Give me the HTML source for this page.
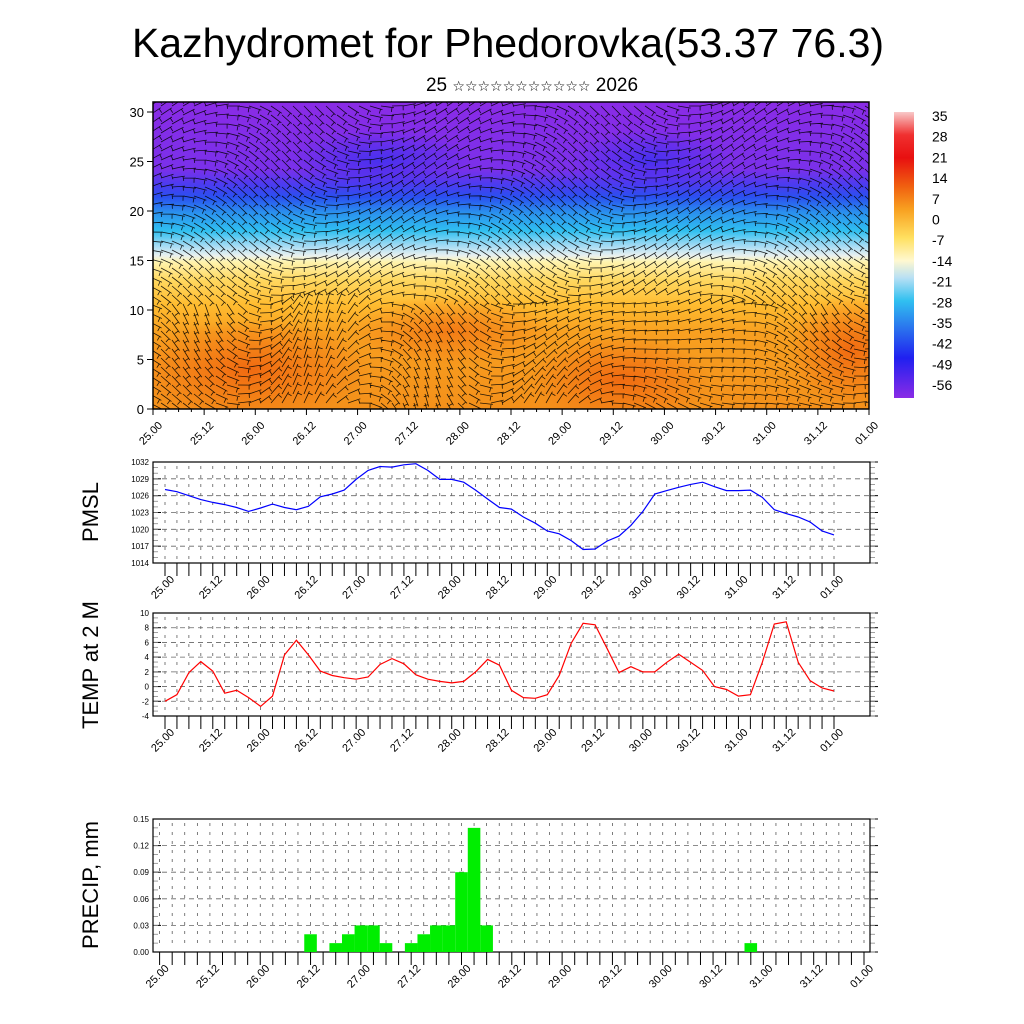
<!DOCTYPE html>
<html><head><meta charset="utf-8"><style>
html,body{margin:0;padding:0;background:#fff;}
svg{display:block;font-family:"Liberation Sans",sans-serif;}
</style></head><body>
<svg id="fig" width="1024" height="1024" viewBox="0 0 1024 1024">
<defs>
<linearGradient id="tgrad" x1="0" y1="0" x2="0" y2="1">
<stop offset="0" stop-color="#8a2be6"/>
<stop offset="0.22" stop-color="#7a30ea"/>
<stop offset="0.27" stop-color="#4a3cf0"/>
<stop offset="0.31" stop-color="#2a50f0"/>
<stop offset="0.36" stop-color="#2a90ee"/>
<stop offset="0.42" stop-color="#30c0f0"/>
<stop offset="0.47" stop-color="#a8dcf4"/>
<stop offset="0.50" stop-color="#e8f0f0"/>
<stop offset="0.52" stop-color="#fff4b0"/>
<stop offset="0.58" stop-color="#ffd860"/>
<stop offset="0.66" stop-color="#ffbc30"/>
<stop offset="0.75" stop-color="#f8a020"/>
<stop offset="1" stop-color="#f4901a"/>
</linearGradient>
<linearGradient id="cbgrad" x1="0" y1="0" x2="0" y2="1">
<stop offset="0" stop-color="#f8c8c8"/>
<stop offset="0.08" stop-color="#f03030"/>
<stop offset="0.16" stop-color="#e81010"/>
<stop offset="0.26" stop-color="#f06010"/>
<stop offset="0.34" stop-color="#f8a020"/>
<stop offset="0.44" stop-color="#ffe060"/>
<stop offset="0.52" stop-color="#fff8d0"/>
<stop offset="0.58" stop-color="#b8e0f4"/>
<stop offset="0.66" stop-color="#30c0f0"/>
<stop offset="0.76" stop-color="#2a70ee"/>
<stop offset="0.86" stop-color="#2020f0"/>
<stop offset="1" stop-color="#8a2be6"/>
</linearGradient>
<radialGradient id="blobO"><stop offset="0" stop-color="#f06810" stop-opacity="0.95"/><stop offset="1" stop-color="#f06810" stop-opacity="0"/></radialGradient>
<radialGradient id="blobB"><stop offset="0" stop-color="#3a30f0" stop-opacity="0.8"/><stop offset="1" stop-color="#3a30f0" stop-opacity="0"/></radialGradient>
<clipPath id="cclip"><rect x="153" y="102" width="716" height="307"/></clipPath>
</defs>
<text x="508" y="57" font-size="41" text-anchor="middle">Kazhydromet for Phedorovka(53.37 76.3)</text>
<text x="532" y="91" font-size="19" text-anchor="middle" font-family="Liberation Sans, DejaVu Sans, sans-serif">25 <tspan font-size="14">☆☆☆☆☆☆☆☆☆☆☆</tspan> 2026</text>

<g id="contour">
<rect x="153" y="102" width="716" height="307" fill="url(#tgrad)"/>
<g clip-path="url(#cclip)">
<ellipse cx="250" cy="370" rx="120" ry="50" fill="url(#blobO)"/>
<ellipse cx="620" cy="380" rx="90" ry="45" fill="url(#blobO)"/>
<ellipse cx="850" cy="350" rx="60" ry="55" fill="url(#blobO)"/>
<ellipse cx="450" cy="330" rx="100" ry="35" fill="url(#blobO)" opacity="0.7"/>
<ellipse cx="380" cy="160" rx="90" ry="30" fill="url(#blobB)"/>
<ellipse cx="650" cy="160" rx="80" ry="30" fill="url(#blobB)"/>
<g id="barbs" stroke="#000" stroke-width="0.8" opacity="0.85"></g>
</g>
<rect x="153" y="102" width="716" height="307" fill="none" stroke="#000" stroke-width="1.5"/>
<g id="cyax"></g><g id="cxax"></g>
</g>
<g>
<rect x="894" y="112" width="20" height="286" fill="url(#cbgrad)"/>
<g id="cblab" font-size="14"></g>
</g>

<g id="p1"></g><g id="p2"></g><g id="p3"></g>
<text transform="translate(98,512) rotate(-90)" font-size="22" text-anchor="middle">PMSL</text>
<text transform="translate(98,665) rotate(-90)" font-size="22" text-anchor="middle">TEMP at 2 M</text>
<text transform="translate(98,885) rotate(-90)" font-size="22" text-anchor="middle">PRECIP, mm</text>
</svg>
<script>
const tickLabels = ["25.00","25.12","26.00","26.12","27.00","27.12","28.00","28.12","29.00","29.12","30.00","30.12","31.00","31.12","01.00"];
const cbLabels = ["35","28","21","14","7","0","-7","-14","-21","-28","-35","-42","-49","-56"];
const contourYTicks = [0,5,10,15,20,25,30];
const pmslValues = [1027.1,1026.7,1026.0,1025.3,1024.8,1024.4,1023.9,1023.2,1023.8,1024.5,1023.9,1023.5,1024.1,1025.8,1026.3,1027.0,1028.9,1030.5,1031.2,1031.1,1031.5,1031.7,1030.5,1028.9,1028.9,1028.4,1027.0,1025.4,1023.9,1023.6,1022.2,1021.1,1019.7,1019.2,1018.0,1016.4,1016.5,1017.9,1018.8,1020.7,1023.2,1026.3,1026.9,1027.5,1028.0,1028.4,1027.6,1026.9,1026.9,1027.0,1025.7,1023.5,1022.8,1022.2,1021.3,1019.7,1019.0];
const pmslTicks = [1014,1017,1020,1023,1026,1029,1032];
const tempValues = [-2.0,-1.1,1.9,3.4,2.1,-0.9,-0.5,-1.5,-2.7,-1.3,4.3,6.3,4.3,2.1,1.5,1.2,1.0,1.3,3.0,3.8,3.1,1.6,1.0,0.7,0.5,0.7,2.0,3.7,2.9,-0.5,-1.5,-1.6,-1.1,1.5,5.9,8.6,8.4,5.2,1.9,2.7,2.0,2.0,3.3,4.4,3.3,2.2,0,-0.4,-1.3,-1.1,3.3,8.5,8.8,3.3,0.8,-0.2,-0.6];
const tempTicks = [-4,-2,0,2,4,6,8,10];
const precipValues = [0,0,0,0,0,0,0,0,0,0,0,0,0.02,0,0.01,0.02,0.03,0.03,0.01,0,0.01,0.02,0.03,0.03,0.09,0.14,0.03,0,0,0,0,0,0,0,0,0,0,0,0,0,0,0,0,0,0,0,0,0.01,0,0,0,0,0,0,0,0,0];
const precipTicks = ["0.00","0.03","0.06","0.09","0.12","0.15"];

const NS="http://www.w3.org/2000/svg";
function mk(tag,attrs,parent){const e=document.createElementNS(NS,tag);for(const k in attrs)e.setAttribute(k,attrs[k]);parent.appendChild(e);return e;}

// barbs texture
(function(){
 const g=document.getElementById('barbs');
 for(let y=106;y<412;y+=9){
  let d='';
  for(let x=150;x<872;x+=11){
   const a=Math.sin(x*0.021+y*0.013)*0.7+(y<300?0.1:Math.cos(x*0.03)*0.6);
   const dx=Math.cos(a)*13, dy=Math.sin(a)*13;
   d+=`M${x} ${y}l${dx.toFixed(1)} ${dy.toFixed(1)}m${(-dx*0.15).toFixed(1)} ${(-dy*0.15).toFixed(1)}l${(-dy*0.35).toFixed(1)} ${(dx*0.35).toFixed(1)}`;
  }
  mk('path',{d:d,fill:'none'},g);
 }
})();

function xLabels(parent,x0,x1,bottom,nameP){
 const n=tickLabels.length-1;
 tickLabels.forEach((t,i)=>{
  const x=x0+(x1-x0)*i/n;
  const el=mk('text',{x:0,y:0,'font-size':11,'text-anchor':'end',transform:`translate(${x+10},${bottom+17}) rotate(-45)`},parent);
  
  
  el.textContent=t;
 });
}

(function(){
 const g=document.getElementById('cyax');
 const y=v=>409-v*9.9;
 contourYTicks.forEach(v=>{
  mk('line',{x1:147,x2:153,y1:y(v),y2:y(v),stroke:'#000'},g);
  const t=mk('text',{x:144,y:y(v)+5,'font-size':13,'text-anchor':'end'},g);
  
  
  t.textContent=v;
 });
 const gx=document.getElementById('cxax');
 for(let i=0;i<=56;i++){const x=153+716*i/56;mk('line',{x1:x,x2:x,y1:409,y2:i%4==0?415:412,stroke:'#000'},gx);}
 xLabels(gx,153,869,409,'contour');
 const cb=document.getElementById('cblab');
 cbLabels.forEach((t,i)=>{
  const e=mk('text',{x:932,y:121+i*20.7},cb);
  
  
  e.textContent=t;
 });
})();

function panel(id,name,top,bottom,x0,x1,ymin,ymax,ticks,tickText){
 const g=document.getElementById(id);
 
 
 const L=153,R=870;
 const sy=v=>bottom-(v-ymin)/(ymax-ymin)*(bottom-top);
 const sx=i=>x0+(x1-x0)*i/56;
 for(let i=0;i<=56;i++){
  mk('line',{x1:sx(i),x2:sx(i),y1:top+4,y2:bottom-4,stroke:'#444','stroke-width':0.7,'stroke-dasharray':'3 6'},g);
  mk('line',{x1:sx(i),x2:sx(i),y1:bottom,y2:bottom+13,stroke:'#000','stroke-width':1},g);
 }
 ticks.forEach((v,k)=>{
  mk('line',{x1:L,x2:R,y1:sy(v),y2:sy(v),stroke:'#666','stroke-width':0.8,'stroke-dasharray':'5 4'},g);
  mk('line',{x1:L,x2:L+8,y1:sy(v),y2:sy(v),stroke:'#000'},g);
  mk('line',{x1:R,x2:R+8,y1:sy(v),y2:sy(v),stroke:'#000'},g);
  const t=mk('text',{x:L-4,y:sy(v)+3,'font-size':8,'text-anchor':'end'},g);
  
  
  t.textContent=tickText?tickText[k]:v;
 });
 const step=(ticks[1]-ticks[0])/3;
 for(let v=ymin;v<=ymax+1e-9;v+=step){
  mk('line',{x1:L,x2:L+5,y1:sy(v),y2:sy(v),stroke:'#888','stroke-width':0.8},g);
  mk('line',{x1:R,x2:R+5,y1:sy(v),y2:sy(v),stroke:'#888','stroke-width':0.8},g);
 }
 mk('rect',{x:L,y:top,width:R-L,height:bottom-top,fill:'none',stroke:'#000','stroke-width':1.2},g);
 xLabels(g,x0,x1,bottom,name);
 return {g,sx,sy};
}

(function(){
 const p=panel('p1','pmsl',462,563,165,834,1014,1032,pmslTicks);
 const d=pmslValues.map((v,i)=>(i?'L':'M')+p.sx(i).toFixed(1)+' '+p.sy(v).toFixed(1)).join('');
 const l=mk('path',{d:d,fill:'none',stroke:'#0000ff','stroke-width':1.2},p.g);
 
 
})();
(function(){
 const p=panel('p2','temp',613,716,165,834,-4,10,tempTicks);
 const d=tempValues.map((v,i)=>(i?'L':'M')+p.sx(i).toFixed(1)+' '+p.sy(v).toFixed(1)).join('');
 const l=mk('path',{d:d,fill:'none',stroke:'#ff0000','stroke-width':1.2},p.g);
 
 
})();
(function(){
 const vals=precipTicks.map(Number);
 const p=panel('p3','precip',819,952,159.6,864,0,0.15,vals,precipTicks);
 const w=(864-159.6)/56;
 precipValues.forEach((v,i)=>{
  if(v<=0)return;
  const r=mk('rect',{x:p.sx(i)-w/2,y:p.sy(v),width:w,height:p.sy(0)-p.sy(v),fill:'#00ee00'},p.g);
  
  
 });
})();
</script>
</body></html>
